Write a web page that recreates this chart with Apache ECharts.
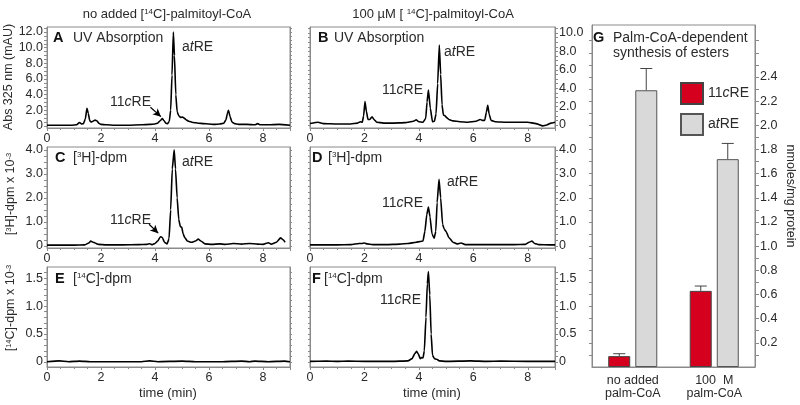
<!DOCTYPE html>
<html><head><meta charset="utf-8">
<script src="https://cdn.jsdelivr.net/npm/echarts@6/dist/echarts.min.js"></script>
<style>html,body{margin:0;padding:0;background:#fff}#c{width:800px;height:405px}</style>
</head><body><div id="c"></div>
<script>
// ---------- Data ----------
// Panel A: UV absorption, no added palm-CoA (mAU)
const tA = [0,0.3,0.6,0.9,1.1,1.2,1.28,1.35,1.42,1.48,1.53,1.58,1.63,1.7,1.78,1.85,1.92,2.0,2.2,2.5,3.0,3.5,3.8,4.0,4.1,4.2,4.27,4.33,4.4,4.47,4.53,4.58,4.63,4.68,4.72,4.77,4.82,4.88,4.95,5.02,5.08,5.15,5.25,5.4,5.6,5.8,6.0,6.2,6.4,6.55,6.63,6.68,6.72,6.78,6.85,6.95,7.1,7.4,7.7,7.8,7.9,8.2,8.6,9.0];
const vA = [0.1,0.1,0.1,0.1,0.15,0.45,0.25,0.3,0.9,2.25,1.6,0.7,0.5,0.6,0.75,0.65,0.35,0.2,0.15,0.1,0.1,0.15,0.2,0.25,0.35,0.7,0.95,0.7,0.35,0.3,0.6,2.0,6.5,12.0,9.0,4.0,1.8,1.3,1.1,1.15,1.0,0.8,0.6,0.45,0.35,0.3,0.25,0.2,0.25,0.35,0.8,1.6,2.0,1.2,0.5,0.3,0.2,0.2,0.15,0.3,0.15,0.15,0.2,0.1];
// Panel B: UV absorption, 100 uM palm-CoA (mAU)
const tB = [0,0.3,0.5,1.0,1.5,1.75,1.85,1.92,1.97,2.02,2.07,2.13,2.2,2.28,2.35,2.45,2.7,3.0,3.5,3.8,3.9,4.0,4.15,4.25,4.3,4.35,4.42,4.5,4.57,4.63,4.69,4.75,4.8,4.85,4.9,4.96,5.02,5.1,5.25,5.5,5.8,6.1,6.25,6.33,6.42,6.48,6.53,6.58,6.65,6.8,7.2,7.6,8.0,8.3,8.55,8.7,8.85,9.0];
const vB = [0.15,0.3,0.15,0.1,0.1,0.2,0.35,0.3,1.0,2.55,1.5,0.6,0.6,0.9,0.6,0.3,0.2,0.2,0.25,0.4,0.55,0.35,0.3,0.7,2.5,3.8,1.8,0.35,0.4,1.2,4.5,8.7,5.5,2.2,1.1,1.0,0.8,0.6,0.45,0.35,0.3,0.4,0.6,0.5,0.5,1.4,2.15,1.2,0.5,0.35,0.3,0.3,0.3,0.15,-0.1,0.0,0.2,0.3];
// Panel C: [3H]-dpm x 10^-3, no added palm-CoA
const tC = [0,0.5,1.0,1.4,1.55,1.62,1.7,1.78,1.9,2.2,2.8,3.4,3.7,3.8,3.9,4.0,4.1,4.2,4.27,4.35,4.45,4.52,4.58,4.64,4.71,4.76,4.82,4.88,4.94,4.99,5.04,5.1,5.2,5.35,5.5,5.6,5.7,5.85,6.1,6.4,6.6,6.9,7.2,7.5,7.8,8.0,8.2,8.3,8.5,8.65,8.75,8.82];
const vC = [0.03,0.03,0.03,0.04,0.12,0.2,0.15,0.12,0.06,0.04,0.04,0.05,0.06,0.09,0.05,0.1,0.2,0.38,0.35,0.15,0.08,0.3,1.5,3.2,4.0,3.2,2.0,1.1,0.8,0.78,0.5,0.35,0.2,0.15,0.2,0.28,0.2,0.08,0.06,0.08,0.06,0.1,0.07,0.1,0.07,0.06,0.13,0.07,0.15,0.33,0.25,0.15];
// Panel D: [3H]-dpm x 10^-3, 100 uM palm-CoA
const tD = [0,0.5,1.0,1.5,1.8,1.9,2.0,2.1,2.3,2.8,3.3,3.6,3.9,4.05,4.15,4.22,4.29,4.35,4.41,4.48,4.56,4.62,4.67,4.74,4.8,4.87,4.93,5.0,5.1,5.25,5.4,5.55,5.7,6.0,6.5,7.0,7.5,7.9,8.05,8.15,8.25,8.4,8.8,9.0];
const vD = [0.04,0.04,0.04,0.05,0.1,0.1,0.12,0.08,0.05,0.05,0.07,0.1,0.15,0.18,0.2,0.6,1.3,1.62,1.2,0.5,0.32,0.6,1.8,2.77,2.0,0.9,0.7,0.6,0.35,0.15,0.08,0.12,0.05,0.05,0.05,0.05,0.05,0.06,0.15,0.2,0.1,0.05,0.04,0.04];
// Panel E: [14C]-dpm x 10^-3, no added palm-CoA
const tE = [0,0.45,0.8,1.2,1.6,2.5,3.5,3.8,4.1,5.0,5.5,6.5,7.2,7.5,7.7,8.2,8.8,9.0];
const vE = [0.005,0.02,0.005,0.015,0.005,0.005,0.005,0.02,0.005,0.015,0.005,0.005,0.015,0.005,0.015,0.005,0.015,0.005];
// Panel F: [14C]-dpm x 10^-3, 100 uM palm-CoA
const tF = [0,0.6,1.0,1.4,2.0,3.0,3.6,3.75,3.85,3.92,3.98,4.05,4.1,4.15,4.2,4.26,4.31,4.35,4.4,4.45,4.5,4.57,4.65,4.75,5.0,5.9,6.5,7.0,8.0,9.0];
const vF = [0.01,0.015,0.01,0.015,0.01,0.01,0.02,0.06,0.15,0.19,0.14,0.06,0.08,0.07,0.2,0.8,1.4,1.62,1.2,0.5,0.12,0.06,0.05,0.02,0.01,0.02,0.01,0.015,0.01,0.01];
// Panel G: palm-CoA-dependent synthesis of esters (nmoles/mg protein)
const barCats = ['no added\npalm-CoA', '100  M\npalm-CoA'];
const v11c = [0.09, 0.63];
const e11c = [0.02, 0.04];
const vAt = [2.29, 1.72];
const eAt = [0.18, 0.13];
// Tick labels
const xTicks = [0, 2, 4, 6, 8];
const yTicksA = [0, 2, 4, 6, 8, 10, 12];
const yTicksB = [0, 2, 4, 6, 8, 10];
const yTicksCD = [0, 1, 2, 3, 4];
const yTicksEF = [0, 0.5, 1, 1.5];
const yTicksG = [0.2, 0.4, 0.6, 0.8, 1.0, 1.2, 1.4, 1.6, 1.8, 2.0, 2.2, 2.4];

// ---------- Chart ----------
const FONT = 'Liberation Sans, Arial, Helvetica, sans-serif';
const GREY = '#8a8a8a';
const TXT = '#2a2a2a';
function steps(a, b, s) { const r = []; for (let k = 0; a + k * s <= b + 1e-9; k++) r.push(+(a + k * s).toFixed(4)); return r; }
function fmt1(v) { return v === 0 ? '0' : v.toFixed(1); }

const grids = [
  { left: 47, top: 27, width: 243, height: 101 },
  { left: 310, top: 27, width: 245, height: 101 },
  { left: 47, top: 147, width: 243, height: 101 },
  { left: 310, top: 147, width: 245, height: 101 },
  { left: 47, top: 267, width: 243, height: 100 },
  { left: 310, top: 267, width: 245, height: 100 },
  { left: 592, top: 25, width: 163, height: 342 }
].map(g => Object.assign({ show: true, borderColor: GREY, borderWidth: 1, containLabel: false }, g));

const panels = [
  { t: tA, v: vA, min: -0.26, max: 12.64, ticks: yTicksA, minor: steps(0, 12.5, 0.5), side: 'left' },
  { t: tB, v: vB, min: -0.33, max: 10.65, ticks: yTicksB, minor: steps(0, 10.5, 0.5), side: 'right' },
  { t: tC, v: vC, min: -0.09, max: 4.12, ticks: yTicksCD, minor: steps(0, 4.0, 0.25), side: 'left' },
  { t: tD, v: vD, min: -0.09, max: 4.12, ticks: yTicksCD, minor: steps(0, 4.0, 0.25), side: 'right' },
  { t: tE, v: vE, min: -0.09, max: 1.70, ticks: yTicksEF, minor: steps(0, 1.6, 0.1), side: 'left' },
  { t: tF, v: vF, min: -0.09, max: 1.70, ticks: yTicksEF, minor: steps(0, 1.6, 0.1), side: 'right' }
];

const xAxis = [], yAxis = [], series = [];
panels.forEach((p, i) => {
  xAxis.push({
    type: 'value', gridIndex: i, min: 0, max: 9, interval: 2,
    axisLine: { show: true, onZero: false, lineStyle: { color: GREY } },
    axisTick: { show: true, inside: false, length: 3, lineStyle: { color: GREY } },
    minorTick: { show: true, splitNumber: 4, length: 2, lineStyle: { color: GREY } },
    axisLabel: { color: TXT, fontSize: 12.5, fontFamily: FONT, margin: 4, customValues: xTicks },
    splitLine: { show: false }
  });
  yAxis.push({
    type: 'value', gridIndex: i, min: p.min, max: p.max, position: p.side,
    axisLine: { show: true, onZero: false, lineStyle: { color: GREY } },
    axisTick: { show: true, inside: false, length: 3, customValues: p.minor, lineStyle: { color: GREY } },
    axisLabel: { color: TXT, fontSize: 12.5, fontFamily: FONT, margin: 4, customValues: p.ticks, formatter: fmt1 },
    splitLine: { show: false }
  });
  yAxis.push({
    type: 'value', gridIndex: i, min: p.min, max: p.max, position: p.side === 'left' ? 'right' : 'left',
    axisLine: { show: true, onZero: false, lineStyle: { color: GREY } },
    axisTick: { show: true, inside: false, length: 2, customValues: p.minor, lineStyle: { color: GREY } },
    axisLabel: { show: false },
    splitLine: { show: false }
  });
  series.push({
    type: 'line', xAxisIndex: i, yAxisIndex: 2 * i,
    data: p.t.map((t, k) => [t, p.v[k]]),
    showSymbol: false, symbol: 'none', smooth: 0.15, smoothMonotone: 'x',
    lineStyle: { color: '#000', width: 1.6 }, silent: true, z: 3
  });
});
// arrows pointing to 11cRE in A and C
series[0].markLine = { silent: true, symbol: ['none', 'arrow'], symbolSize: [6, 8], label: { show: false },
  lineStyle: { color: '#000', width: 1.2, type: 'solid' },
  data: [[{ coord: [3.83, 2.39] }, { coord: [4.22, 1.19] }]] };
series[2].markLine = { silent: true, symbol: ['none', 'arrow'], symbolSize: [6, 8], label: { show: false },
  lineStyle: { color: '#000', width: 1.2, type: 'solid' },
  data: [[{ coord: [3.78, 0.9] }, { coord: [4.12, 0.53] }]] };

// Panel G axes
const gx = xAxis.length;
xAxis.push({
  type: 'category', gridIndex: 6, data: barCats,
  axisLine: { show: true, lineStyle: { color: GREY } }, axisTick: { show: false },
  axisLabel: { color: TXT, fontSize: 12.5, fontFamily: FONT, margin: 7, lineHeight: 13 }
});
const gy = yAxis.length;
yAxis.push({
  type: 'value', gridIndex: 6, min: 0, max: 2.83, position: 'right',
  axisLine: { show: true, lineStyle: { color: GREY } },
  axisTick: { show: true, inside: false, length: 4, customValues: steps(0.1, 2.7, 0.1), lineStyle: { color: GREY } },
  axisLabel: { color: TXT, fontSize: 12.5, fontFamily: FONT, margin: 5, customValues: yTicksG, formatter: v => v.toFixed(1) },
  splitLine: { show: false }
});
yAxis.push({
  type: 'value', gridIndex: 6, min: 0, max: 2.83, position: 'left',
  axisLine: { show: true, lineStyle: { color: GREY } },
  axisTick: { show: true, inside: false, length: 3, customValues: steps(0.1, 2.7, 0.1), lineStyle: { color: GREY } },
  axisLabel: { show: false }, splitLine: { show: false }
});
series.push({ type: 'bar', name: '11cRE', xAxisIndex: gx, yAxisIndex: gy, data: v11c, barWidth: 22, barGap: '23%',
  itemStyle: { color: '#d4001e', borderColor: '#444', borderWidth: 1 }, silent: true });
series.push({ type: 'bar', name: 'atRE', xAxisIndex: gx, yAxisIndex: gy, data: vAt, barWidth: 22, barGap: '23%',
  itemStyle: { color: '#d9d9d9', borderColor: '#555', borderWidth: 1 }, silent: true });
function errSeries(vals, errs, off) {
  return {
    type: 'custom', xAxisIndex: gx, yAxisIndex: gy, silent: true, z: 4,
    data: vals.map((v, i) => [i, v, errs[i]]),
    encode: { x: 0, y: 1 },
    renderItem: (params, api) => {
      const i = api.value(0), v = api.value(1), e = api.value(2);
      const base = api.coord([i, v]), top = api.coord([i, v + e]);
      const x = base[0] + off;
      return { type: 'group', children: [
        { type: 'line', shape: { x1: x, y1: base[1], x2: x, y2: top[1] }, style: { stroke: '#444', lineWidth: 1 } },
        { type: 'line', shape: { x1: x - 6, y1: top[1], x2: x + 6, y2: top[1] }, style: { stroke: '#444', lineWidth: 1 } }
      ] };
    }
  };
}
series.push(errSeries(v11c, e11c, -13.5));
series.push(errSeries(vAt, eAt, 13.5));

// ---------- Annotation texts ----------
const rich = {
  n: { fontSize: 14, fontFamily: FONT, fill: TXT },
  i: { fontSize: 14, fontFamily: FONT, fontStyle: 'italic', fill: TXT },
  m: { fontSize: 13, fontFamily: FONT, fill: TXT },
  s: { fontSize: 8, fontFamily: FONT, fill: TXT, verticalAlign: 'top' },
  y: { fontSize: 12.5, fontFamily: FONT, fill: TXT },
  ys: { fontSize: 7.5, fontFamily: FONT, fill: TXT, verticalAlign: 'top' },
  b: { fontSize: 14.5, fontFamily: FONT, fontWeight: 'bold', fill: '#111' }
};
function T(x, y, text, extra) {
  return Object.assign({ type: 'text', x: x, y: y, silent: true, z: 10,
    style: { text: text, rich: rich, align: 'left', verticalAlign: 'middle', fill: TXT, font: '14px ' + FONT } }, extra || {});
}
function TC(x, y, text, rot) {
  const o = T(x, y, text, rot !== undefined ? { rotation: rot } : {});
  o.style.align = 'center';
  return o;
}
const atRE = '{n|a}{i|t}{n|RE}';
const cRE = '{n|11}{i|c}{n|RE}';
const graphics = [
  TC(167, 14, '{m|no added [}{s|14}{m|C]-palmitoyl-CoA}'),
  TC(433, 14, '{m|100 µM [ }{s|14}{m|C]-palmitoyl-CoA}'),
  T(53, 38, '{b|A}'), T(73, 38, '{n|UV Absorption}'),
  T(318, 38, '{b|B}'), T(334, 38, '{n|UV Absorption}'),
  T(182, 47, atRE), T(110, 102, cRE),
  T(444, 52, atRE), T(382, 90, cRE),
  T(55, 158, '{b|C}'), T(73, 158, '{n|[}{s|3}{n|H]-dpm}'),
  T(182, 162, atRE), T(110, 220, cRE),
  T(312, 158, '{b|D}'), T(328, 158, '{n|[}{s|3}{n|H]-dpm}'),
  T(447, 182, atRE), T(382, 203, cRE),
  T(55, 279, '{b|E}'), T(73, 279, '{n|[}{s|14}{n|C]-dpm}'),
  T(312, 279, '{b|F}'), T(324, 279, '{n|[}{s|14}{n|C]-dpm}'),
  T(380, 300, cRE),
  T(593, 38, '{b|G}'), T(613, 38, '{n|Palm-CoA-dependent}'), T(613, 53, '{n|synthesis of esters}'),
  TC(168, 393, '{m|time (min)}'), TC(432, 393, '{m|time (min)}'),
  TC(9, 77, '{y|Abs 325 nm (mAU)}', Math.PI / 2),
  TC(11, 194, '{y|[}{ys|3}{y|H]-dpm x 10}{ys|-3}', Math.PI / 2),
  TC(11, 308, '{y|[}{ys|14}{y|C]-dpm x 10}{ys|-3}', Math.PI / 2),
  TC(790, 196, '{y|nmoles/mg protein}', -Math.PI / 2)
];

const chart = echarts.init(document.getElementById('c'), null, { renderer: 'canvas' });
chart.setOption({
  animation: false,
  backgroundColor: '#fff',
  textStyle: { fontFamily: FONT },
  grid: grids,
  xAxis: xAxis,
  yAxis: yAxis,
  legend: {
    data: ['11cRE', 'atRE'], orient: 'vertical', left: 675, top: 77,
    itemWidth: 22, itemHeight: 21, itemGap: 8, icon: 'rect', selectedMode: false,
    formatter: n => n === '11cRE' ? '{n|11}{i|c}{n|RE}' : '{n|a}{i|t}{n|RE}',
    textStyle: { color: TXT, fontSize: 14, rich: { n: { fontSize: 14, color: TXT }, i: { fontSize: 14, fontStyle: 'italic', color: TXT } } }
  },
  series: series,
  graphic: graphics
});
</script></body></html>
